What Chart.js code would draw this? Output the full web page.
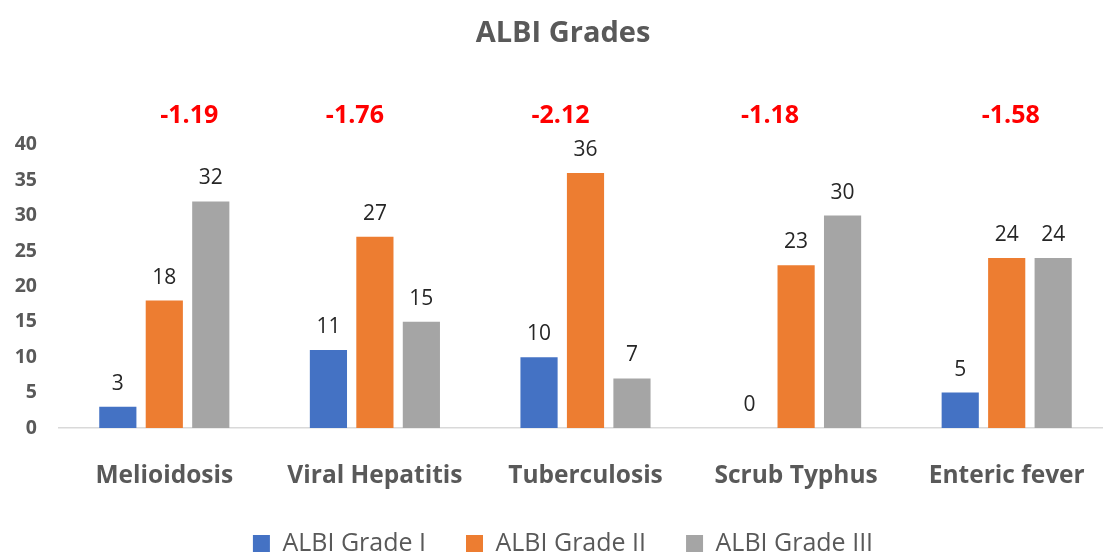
<!DOCTYPE html>
<html>
<head>
<meta charset="utf-8">
<script src="https://cdn.jsdelivr.net/npm/chart.js@4.4.1/dist/chart.umd.min.js"></script>
<style>
  html, body { margin: 0; padding: 0; background: #fff; overflow: hidden; }
  #wrap { width: 1125px; height: 557px; position: relative; }
</style>
</head>
<body>
<div id="wrap"><canvas id="albiChart"></canvas></div>
<script>
// Chart: ALBI Grades by disease
const categories = ['Melioidosis', 'Viral Hepatitis', 'Tuberculosis', 'Scrub Typhus', 'Enteric fever'];
const gradeI = [3, 11, 10, 0, 5];
const gradeII = [18, 27, 36, 23, 24];
const gradeIII = [32, 15, 7, 30, 24];
const meanScores = ['-1.19', '-1.76', '-2.12', '-1.18', '-1.58'];
const yTicks = [0, 5, 10, 15, 20, 25, 30, 35, 40];

const FONT = '"Open Sans", sans-serif';
const GREY = '#595959';
// red score boxes sit a bit off-centre in the original
const scoreShift = [25, -20, -25, -26, 4];

// value labels on bars + red score over each group
const labelPlugin = {
  id: 'labels',
  beforeInit(chart) {
    // wide gaps between legend items, fixed box height
    const fit = chart.legend.fit;
    chart.legend.fit = function () {
      fit.call(this);
      this.height = 66;
    };
  },
  afterDatasetsDraw(chart) {
    const ctx = chart.ctx;
    ctx.save();
    ctx.textAlign = 'center';
    ctx.textBaseline = 'middle';
    ctx.font = '21px ' + FONT;
    ctx.fillStyle = '#262626';
    chart.data.datasets.forEach((ds, i) => {
      chart.getDatasetMeta(i).data.forEach((bar, j) => {
        ctx.fillText(ds.data[j], bar.x, bar.y - 23);
      });
    });
    ctx.font = 'bold 25px ' + FONT;
    ctx.fillStyle = '#FF0000';
    const xs = chart.scales.x;
    meanScores.forEach((s, j) => {
      ctx.fillText(s, xs.getPixelForValue(j) + scoreShift[j], 116);
    });
    ctx.restore();
  }
};

new Chart(document.getElementById('albiChart'), {
  type: 'bar',
  data: {
    labels: categories,
    datasets: [
      { label: 'ALBI Grade I', data: gradeI, backgroundColor: '#4472C4' },
      { label: 'ALBI Grade II', data: gradeII, backgroundColor: '#ED7D31' },
      { label: 'ALBI Grade III', data: gradeIII, backgroundColor: '#A5A5A5' }
    ]
  },
  options: {
    responsive: true,
    maintainAspectRatio: false,
    animation: false,
    categoryPercentage: 0.662,
    barPercentage: 0.8,
    layout: { padding: { left: 14, right: 13, top: 10, bottom: 0 } },
    plugins: {
      title: {
        display: true,
        text: 'ALBI Grades',
        color: GREY,
        font: { family: FONT, size: 29, weight: 'bold' },
        padding: { top: 6, bottom: 94 }
      },
      legend: {
        position: 'bottom',
        labels: {
          color: GREY,
          font: { family: FONT, size: 25 },
          boxWidth: 17,
          boxHeight: 17,
          padding: 40
        }
      },
      tooltip: { enabled: false }
    },
    scales: {
      x: {
        afterFit(axis) { axis.height = 63; },
        grid: { display: false, drawTicks: false },
        border: { color: '#D9D9D9', width: 1.5 },
        ticks: {
          color: GREY,
          padding: 33,
          font: { family: FONT, size: 24.5, weight: 'bold' }
        }
      },
      y: {
        min: 0,
        max: 40,
        afterBuildTicks(axis) { axis.ticks = yTicks.map(v => ({ value: v })); },
        afterFit(axis) { axis.width = 45; },
        grid: { display: false, drawTicks: false },
        border: { display: false },
        ticks: {
          color: GREY,
          padding: 22,
          font: { family: FONT, size: 19.5, weight: 'bold' }
        }
      }
    }
  },
  plugins: [labelPlugin]
});
</script>
</body>
</html>
